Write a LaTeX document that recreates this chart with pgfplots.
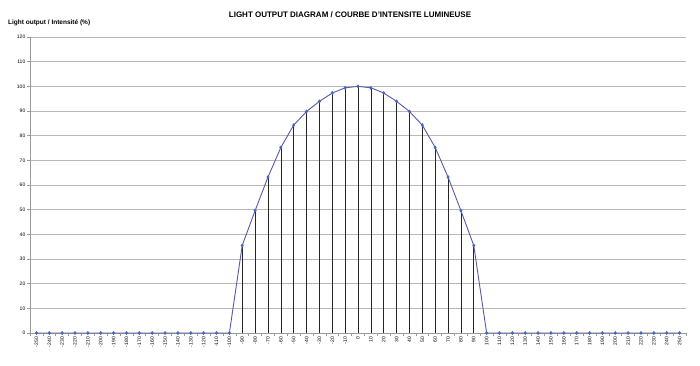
\documentclass[border=0pt]{standalone}
\usepackage{pgfplots}
\pgfplotsset{compat=1.18}
\usepackage{pgfplotstable}
\usepackage{fontspec}
\setmainfont{Liberation Sans}
\definecolor{linecol}{RGB}{92,88,165}
\definecolor{markcol}{RGB}{68,105,196}
\pgfplotstableread{
x y
-250 0
-240 0
-230 0
-220 0
-210 0
-200 0
-190 0
-180 0
-170 0
-160 0
-150 0
-140 0
-130 0
-120 0
-110 0
-100 0
-90 35.5
-80 49.6
-70 63.2
-60 75.2
-50 84.3
-40 89.8
-30 93.9
-20 97.3
-10 99.4
0 100
10 99.4
20 97.3
30 93.9
40 89.8
50 84.3
60 75.2
70 63.2
80 49.6
90 35.5
100 0
110 0
120 0
130 0
140 0
150 0
160 0
170 0
180 0
190 0
200 0
210 0
220 0
230 0
240 0
250 0
}\data
\begin{document}
\begin{tikzpicture}
\useasboundingbox (0,0) rectangle (700pt,365pt);
\begin{axis}[
  at={(30pt,32pt)}, anchor=south west,
  scale only axis, width=656pt, height=296pt,
  xmin=-255, xmax=255, ymin=0, ymax=120,
  xtick={-250,-240,...,250},
  minor xtick={-255,-245,...,255},
  ytick={0,10,...,120},
  ymajorgrids,
  major grid style={color=black!28, line width=0.9pt},
  axis x line*=bottom, axis y line*=left,
  axis line style={-, color=black!40, line width=0.9pt},
  tick style={color=black!40, line width=0.6pt},
  tick align=outside,
  xtick style={draw=none},
  minor x tick style={draw=black!40},
  minor tick length=3pt,
  major tick length=3pt,
  /pgf/number format/assume math mode=true,
  xticklabel style={rotate=90, anchor=east, font=\fontsize{5}{5}\selectfont, inner sep=1pt},
  yticklabel style={font=\fontsize{5}{5}\selectfont, inner sep=1.5pt},
  clip=false,
]
\addplot[ycomb, black!85, line width=0.6pt, no markers] table[x=x,y=y] {\data};
\addplot[linecol, line width=0.9pt, mark=diamond*, mark size=1.3pt,
  mark options={fill=markcol, draw=markcol}] table[x=x,y=y] {\data};
\end{axis}
\node[font=\bfseries\fontsize{8}{9}\selectfont] at (350pt,350pt) {LIGHT OUTPUT DIAGRAM / COURBE D'INTENSITE LUMINEUSE};
\node[anchor=west, font=\bfseries\fontsize{6.5}{7}\selectfont, inner sep=0pt] at (8pt,342pt) {Light output / Intensité (\%)};
\end{tikzpicture}
\end{document}
